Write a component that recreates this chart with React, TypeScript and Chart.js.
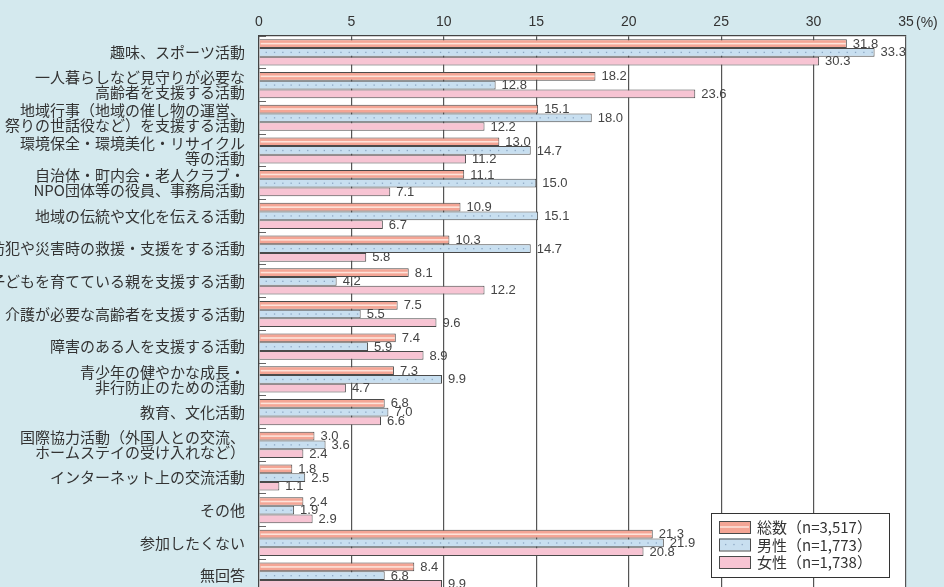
import React, { useEffect, useRef } from 'react';
import { Chart, registerables } from 'chart.js';

Chart.register(...registerables);

const categories: (string | string[])[] = [
  '趣味、スポーツ活動',
  ['一人暮らしなど見守りが必要な', '高齢者を支援する活動'],
  ['地域行事（地域の催し物の運営、', '祭りの世話役など）を支援する活動'],
  ['環境保全・環境美化・リサイクル', '等の活動'],
  ['自治体・町内会・老人クラブ・', 'NPO団体等の役員、事務局活動'],
  '地域の伝統や文化を伝える活動',
  '防犯や災害時の救援・支援をする活動',
  '子どもを育てている親を支援する活動',
  '介護が必要な高齢者を支援する活動',
  '障害のある人を支援する活動',
  ['青少年の健やかな成長・', '非行防止のための活動'],
  '教育、文化活動',
  ['国際協力活動（外国人との交流、', 'ホームステイの受け入れなど）'],
  'インターネット上の交流活動',
  'その他',
  '参加したくない',
  '無回答',
];

const totalValues = [31.8, 18.2, 15.1, 13.0, 11.1, 10.9, 10.3, 8.1, 7.5, 7.4, 7.3, 6.8, 3.0, 1.8, 2.4, 21.3, 8.4];
const maleValues = [33.3, 12.8, 18.0, 14.7, 15.0, 15.1, 14.7, 4.2, 5.5, 5.9, 9.9, 7.0, 3.6, 2.5, 1.9, 21.9, 6.8];
const femaleValues = [30.3, 23.6, 12.2, 11.2, 7.1, 6.7, 5.8, 12.2, 9.6, 8.9, 4.7, 6.6, 2.4, 1.1, 2.9, 20.8, 9.9];

const seriesLabels = ['総数（n=3,517）', '男性（n=1,773）', '女性（n=1,738）'];
const xMin = 0;
const xMax = 35;
const xStep = 5;
const unitLabel = '(%)';

const BG = '#d4e9ee';
const COL_TOTAL = '#f4a595';
const COL_MALE = '#c8dff0';
const COL_FEMALE = '#f7c4d3';
const STRIPE = '#fde3da';
const DOT = '#8ea8c4';
const EDGE = '#4a4a4a';
const TEXT = '#333333';
const JP = '"Noto Sans CJK JP", "Noto Sans", sans-serif';
const LAT = '"Liberation Sans", Arial, sans-serif';

function decorate(ctx: CanvasRenderingContext2D, idx: number, x0: number, x1: number, y: number) {
  if (idx === 0) {
    ctx.fillStyle = STRIPE;
    ctx.fillRect(x0 + 1, y - 0.8, Math.max(0, x1 - x0 - 2), 1.6);
  } else if (idx === 1) {
    ctx.fillStyle = DOT;
    for (let px = x0 + 6; px < x1 - 3; px += 8.3) {
      ctx.fillRect(px, y - 0.6, 1.3, 1.3);
    }
  }
}

const customPlugin = {
  id: 'custom',
  beforeDraw(chart: any) {
    const { ctx, chartArea } = chart;
    ctx.save();
    ctx.fillStyle = BG;
    ctx.fillRect(0, 0, chart.width, chart.height);
    ctx.fillStyle = '#ffffff';
    ctx.fillRect(chartArea.left, chartArea.top, chartArea.right - chartArea.left, chartArea.bottom - chartArea.top);
    ctx.restore();
  },
  afterDatasetsDraw(chart: any) {
    const { ctx } = chart;
    ctx.save();
    chart.data.datasets.forEach((ds: any, di: number) => {
      const meta = chart.getDatasetMeta(di);
      meta.data.forEach((el: any) => {
        const p = el.getProps(['x', 'y', 'base', 'height'], true);
        decorate(ctx, di, p.base, p.x, p.y);
      });
    });
    ctx.font = '13px ' + LAT;
    ctx.fillStyle = '#444444';
    ctx.textBaseline = 'middle';
    ctx.textAlign = 'left';
    chart.data.datasets.forEach((ds: any, di: number) => {
      const meta = chart.getDatasetMeta(di);
      meta.data.forEach((el: any, i: number) => {
        const p = el.getProps(['x', 'y'], true);
        ctx.fillText(Number(ds.data[i]).toFixed(1), p.x + 6, p.y + 0.5);
      });
    });
    ctx.restore();
  },
  afterDraw(chart: any) {
    const { ctx } = chart;
    const xs = chart.scales.x;
    ctx.save();
    ctx.font = '14px ' + LAT;
    ctx.fillStyle = TEXT;
    ctx.textBaseline = 'middle';
    ctx.textAlign = 'left';
    ctx.fillText(unitLabel, xs.getPixelForValue(xMax) + 10, 23);

    const bx = 711, by = 513, bw = 178, bh = 64;
    ctx.fillStyle = '#ffffff';
    ctx.fillRect(bx, by, bw, bh);
    ctx.strokeStyle = '#333333';
    ctx.lineWidth = 1;
    ctx.strokeRect(bx + 0.5, by + 0.5, bw, bh);
    chart.data.datasets.forEach((ds: any, di: number) => {
      const cy = 527 + di * 17.5;
      const sx = 719, sw = 31, sh = 12;
      ctx.fillStyle = ds.backgroundColor;
      ctx.fillRect(sx, cy - sh / 2, sw, sh);
      decorate(ctx, di, sx, sx + sw, cy);
      ctx.strokeStyle = EDGE;
      ctx.strokeRect(sx + 0.5, cy - sh / 2 + 0.5, sw, sh);
      ctx.fillStyle = TEXT;
      ctx.font = '15px ' + JP;
      ctx.textBaseline = 'middle';
      ctx.fillText(ds.label, 757, cy + 0.5);
    });
    ctx.restore();
  },
};

export default function App() {
  const ref = useRef<HTMLCanvasElement | null>(null);
  useEffect(() => {
    if (!ref.current) return;
    const mk = (label: string, data: number[], color: string) => ({
      label,
      data,
      backgroundColor: color,
      borderColor: EDGE,
      borderWidth: 1,
      categoryPercentage: 0.8,
      barPercentage: 1.0,
    });
    const chart = new Chart(ref.current, {
      type: 'bar',
      data: {
        labels: categories,
        datasets: [
          mk(seriesLabels[0], totalValues, COL_TOTAL),
          mk(seriesLabels[1], maleValues, COL_MALE),
          mk(seriesLabels[2], femaleValues, COL_FEMALE),
        ],
      },
      options: {
        indexAxis: 'y',
        animation: false,
        responsive: false,
        devicePixelRatio: 1,
        layout: { padding: { top: 0, right: 38, bottom: 0, left: 0 } },
        plugins: {
          legend: { display: false },
          tooltip: { enabled: false },
        },
        scales: {
          x: {
            type: 'linear',
            position: 'top',
            min: xMin,
            max: xMax,
            ticks: {
              stepSize: xStep,
              color: TEXT,
              font: { family: LAT, size: 14 },
              padding: 5,
              maxRotation: 0,
            },
            grid: { color: '#555555', lineWidth: 1.2, drawTicks: false },
            border: { display: true, color: '#444444', width: 1.2 },
            afterFit: (s: any) => { s.height = 36; },
          },
          y: {
            type: 'category',
            offset: true,
            ticks: {
              color: TEXT,
              font: { family: JP, size: 15, lineHeight: 1 },
              padding: 21,
              autoSkip: false,
            },
            grid: { offset: true, drawOnChartArea: false, drawTicks: true, tickLength: -7, color: '#666666' },
            border: { display: true, color: '#444444', width: 1.2 },
            afterFit: (s: any) => { s.width = 259; s.paddingTop = 0; s.paddingBottom = 0; },
          },
        },
      },
      plugins: [customPlugin],
    } as any);
    return () => chart.destroy();
  }, []);
  return (
    <div style={{ position: 'fixed', left: 0, top: 0, width: 944, height: 592, background: BG, overflow: 'hidden' }}>
      <canvas ref={ref} width={944} height={592} style={{ display: 'block', width: 944, height: 592 }} />
    </div>
  );
}
